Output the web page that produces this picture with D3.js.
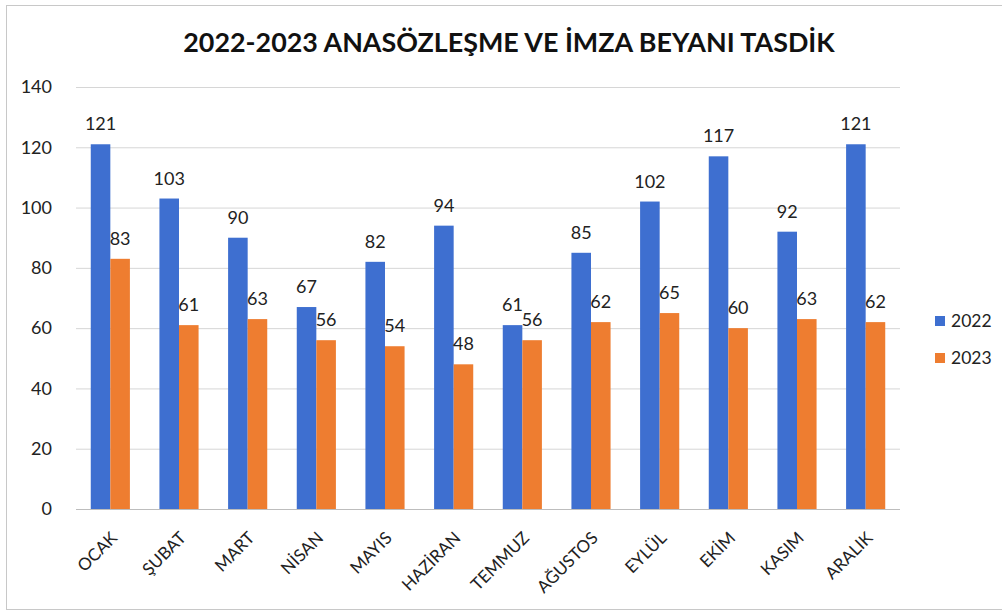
<!DOCTYPE html>
<html><head><meta charset="utf-8">
<script src="https://cdn.jsdelivr.net/npm/d3@7"></script>
<style>body{margin:0;background:#fff;} svg{display:block;font-family:Lato,"Open Sans",sans-serif;}</style>
</head><body>
<svg id="c" width="1002" height="612"></svg>
<script>
const months = ["OCAK","ŞUBAT","MART","NİSAN","MAYIS","HAZİRAN","TEMMUZ","AĞUSTOS","EYLÜL","EKİM","KASIM","ARALIK"];
const series = ["2022","2023"];
const values2022 = [121,103,90,67,82,94,61,85,102,117,92,121];
const values2023 = [83,61,63,56,54,48,56,62,65,60,63,62];
const yTicks = [0,20,40,60,80,100,120,140];
const colors = ["#3E6FD0","#EE7D30"];
const title = "2022-2023 ANASÖZLEŞME VE İMZA BEYANI TASDİK";

const svg = d3.select("#c");
const W = 1002, H = 612;
const m = {l:76, r:900, t:87, b:509};

svg.append("rect").attr("x",6.5).attr("y",5.5).attr("width",W-6).attr("height",604).attr("fill","#fff").attr("stroke","#c8c8c8");

const x = d3.scaleBand().domain(months).range([m.l,m.r]).paddingInner(0.43).paddingOuter(0.215);
const xs = d3.scaleBand().domain(series).range([0,x.bandwidth()]);
const y = d3.scaleLinear().domain([0,140]).range([m.b,m.t]);

// gridlines
svg.append("g").selectAll("line").data(yTicks).join("line")
  .attr("x1",m.l).attr("x2",m.r).attr("y1",d=>y(d)+0.5).attr("y2",d=>y(d)+0.5)
  .attr("stroke",d=>d===0?"#bdbdbd":"#d6d6d6").attr("stroke-width",1);

// y axis labels
const yAxis = d3.axisLeft(y).tickValues(yTicks).tickSize(0).tickPadding(0);
const yg = svg.append("g").attr("transform",`translate(${m.l-24},0)`).call(yAxis);
yg.select(".domain").remove();
yg.selectAll("text").attr("font-size",18).attr("fill","#222").attr("font-family","Lato");

// bars
const data = months.map((mo,i)=>({mo, vals:[values2022[i],values2023[i]]}));
const grp = svg.append("g").selectAll("g").data(data).join("g").attr("transform",d=>`translate(${x(d.mo)},0)`);
grp.selectAll("rect").data(d=>d.vals.map((v,j)=>({s:series[j],v,j}))).join("rect")
  .attr("x",d=>xs(d.s)).attr("width",xs.bandwidth())
  .attr("y",d=>y(d.v)).attr("height",d=>y(0)-y(d.v)).attr("fill",d=>colors[d.j]);
grp.selectAll("text").data(d=>d.vals.map((v,j)=>({s:series[j],v,j}))).join("text")
  .attr("x",d=>xs(d.s)+xs.bandwidth()/2).attr("y",d=>y(d.v)-14)
  .attr("text-anchor","middle").attr("font-size",18).attr("fill","#222").text(d=>d.v);

// x labels
const xAxis = d3.axisBottom(x).tickSize(0).tickPadding(0);
const xg = svg.append("g").attr("transform",`translate(0,${m.b})`).call(xAxis);
xg.select(".domain").remove();
xg.selectAll("text").attr("font-size",17).attr("fill","#222").attr("font-family","Lato")
  .attr("text-anchor","end").attr("dy",0)
  .attr("transform","translate(8,30) rotate(-45)");

// title
const t = svg.append("text").attr("x",509).attr("y",52).attr("text-anchor","middle")
  .attr("font-weight","bold").attr("font-size",26).attr("fill","#111").text(title);
const tw = t.node().getComputedTextLength();
t.attr("font-size",26*652/tw);

// legend
const lg = svg.append("g").selectAll("g").data(series).join("g")
  .attr("transform",(d,i)=>`translate(935,${321+i*37})`);
lg.append("rect").attr("x",0).attr("y",-5).attr("width",10).attr("height",10).attr("fill",(d,i)=>colors[i]);
lg.append("text").attr("x",16).attr("y",0).attr("dy","0.35em").attr("font-size",17.5).attr("fill","#222").text(d=>d);
</script>
</body></html>
